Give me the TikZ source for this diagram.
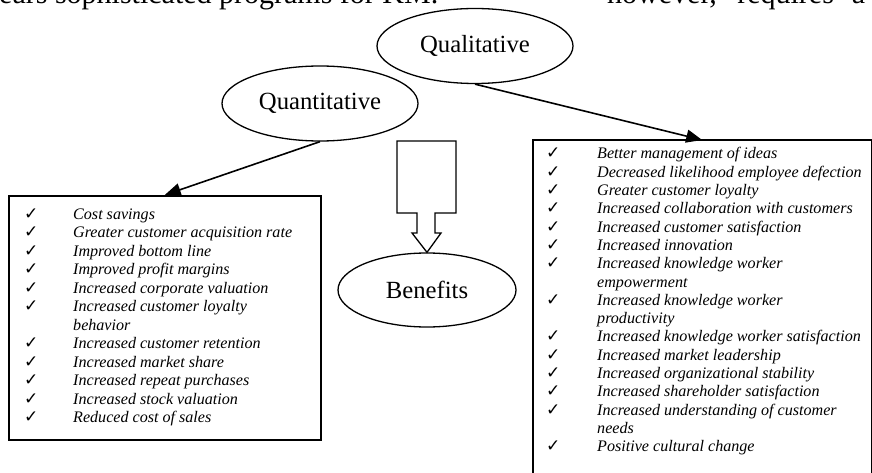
\documentclass[tikz,border=0pt]{standalone}
\usepackage{fontspec}
\setmainfont{Liberation Serif}
\newfontfamily\symfont{DejaVu Sans}
\usetikzlibrary{shapes.geometric,arrows.meta}
\newcommand\ckm{{\symfont\upshape\fontsize{17}{17}\selectfont ✓}}
\begin{document}
\begin{tikzpicture}[x=1pt,y=-1pt,
  oval/.style={draw,ellipse,line width=1.3pt,inner sep=0pt,font=\fontsize{24.7}{28}\selectfont},
  listbox/.style={rectangle,inner sep=0pt,anchor=north west},
  frame/.style={line width=1.5pt},
  link/.style={line width=1.6pt,-{Triangle[length=16pt,width=13pt]}},
  listtext/.style={anchor=base west,inner sep=0pt,align=left},
  bodytext/.style={anchor=base west,inner sep=0pt,font=\fontsize{30}{34}\selectfont}
]
\useasboundingbox (0,0) rectangle (872,473);

% clipped running text at the top
\node[bodytext] (t1) at (-1,4) {ears sophisticated programs for KM.};
\node[bodytext] (t2) at (607,4) {\makebox[258pt][s]{however, requires a}};

% ellipses
\node[oval,minimum width=196pt,minimum height=75pt] (qual) at (475,46) {Qualitative};
\node[oval,minimum width=196pt,minimum height=75pt] (quan) at (320,103.5) {Quantitative};
\node[oval,minimum width=178pt,minimum height=74pt] (ben) at (427,290) {Benefits};

% boxes
\node[listbox,draw,frame,minimum width=312pt,minimum height=244pt] (lbox) at (8,195) {};
\node[listbox,minimum width=338pt,minimum height=333pt] (rbox) at (533,140) {};
\draw[frame] (rbox.south west) -- (rbox.north west) -- (rbox.north east) -- (rbox.south east);

% left list
\node[listtext] (ltext) at (24,219) {\fontsize{16.1}{18.5}\selectfont\itshape
\begin{tabular}[t]{@{}p{49pt}@{}l@{}}
\ckm & Cost savings\\
\ckm & Greater customer acquisition rate\\
\ckm & Improved bottom line\\
\ckm & Improved profit margins\\
\ckm & Increased corporate valuation\\
\ckm & Increased customer loyalty\\
     & behavior\\
\ckm & Increased customer retention\\
\ckm & Increased market share\\
\ckm & Increased repeat purchases\\
\ckm & Increased stock valuation\\
\ckm & Reduced cost of sales
\end{tabular}};

% right list
\node[listtext] (rtext) at (546,159) {\fontsize{16.1}{18.3}\selectfont\itshape
\begin{tabular}[t]{@{}p{51pt}@{}l@{}}
\ckm & Better management of ideas\\
\ckm & Decreased likelihood employee defection\\
\ckm & Greater customer loyalty\\
\ckm & Increased collaboration with customers\\
\ckm & Increased customer satisfaction\\
\ckm & Increased innovation\\
\ckm & Increased knowledge worker\\
     & empowerment\\
\ckm & Increased knowledge worker\\
     & productivity\\
\ckm & Increased knowledge worker satisfaction\\
\ckm & Increased market leadership\\
\ckm & Increased organizational stability\\
\ckm & Increased shareholder satisfaction\\
\ckm & Increased understanding of customer\\
     & needs\\
\ckm & Positive cultural change
\end{tabular}};

% connectors
\draw[link] (quan.south) -- (lbox.north);
\draw[link] (qual.south) -- (rbox.north);

% block arrow into Benefits
\draw[line width=1.3pt,fill=white,line join=miter]
  (397,141) -- (456,141) -- (456,213) -- (435,213) -- (435,233) -- (441,233)
  -- (ben.north) -- (412,233) -- (417,233) -- (417,213) -- (397,213) -- cycle;
\end{tikzpicture}
\end{document}
